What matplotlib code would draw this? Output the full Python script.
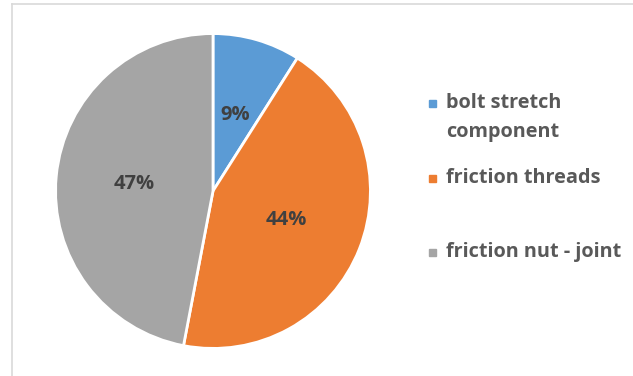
import matplotlib
matplotlib.use("Agg")
import matplotlib.pyplot as plt
from matplotlib.patches import Rectangle
from matplotlib.lines import Line2D

# Share of tightening torque
labels = ["bolt stretch\ncomponent", "friction threads", "friction nut - joint"]
shares = [9, 44, 47]
colors = ["#5B9BD5", "#ED7D31", "#A5A5A5"]

plt.rcParams['font.family'] = ['Open Sans', 'DejaVu Sans']

W, H = 633, 376
fig = plt.figure(figsize=(W / 100, H / 100), dpi=100)

# pie axes: center (213,191) px, radius 159 px
cx, cy, r = 213, 191, 159
ax = fig.add_axes([(cx - r) / W, (H - cy - r) / H, 2 * r / W, 2 * r / H])
wedges, texts, autotexts = ax.pie(
    shares, colors=colors, startangle=90, counterclock=False,
    autopct='%1.0f%%', pctdistance=0.5, radius=1,
    wedgeprops=dict(edgecolor='white', linewidth=2),
    textprops=dict(color='#404040', fontsize=14.5, fontweight='bold'))
ax.set_xlim(-1.01, 1.01)
ax.set_ylim(-1.01, 1.01)
ax.set_aspect('equal')
ax.axis('off')

# chart border (top and left edges visible)
fig.add_artist(Line2D([11.5 / W, 11.5 / W], [0, 1 - 4 / H], color='#d9d9d9', lw=1.2))
fig.add_artist(Line2D([11.5 / W, 1], [1 - 4 / H, 1 - 4 / H], color='#d9d9d9', lw=1.2))

# legend
leg_y = [118, 178, 252]
for lab, col, y in zip(labels, colors, leg_y):
    first_y = y - 15 if "\n" in lab else y
    fig.add_artist(Rectangle(((429) / W, 1 - (first_y + 3.5) / H), 7 / W, 7 / H,
                             color=col, transform=fig.transFigure))
    fig.text(446 / W, 1 - y / H, lab, ha='left', va='center', fontsize=14.3,
             fontweight='bold', color='#595959', linespacing=1.6)

fig.savefig("out.png", dpi=100)
